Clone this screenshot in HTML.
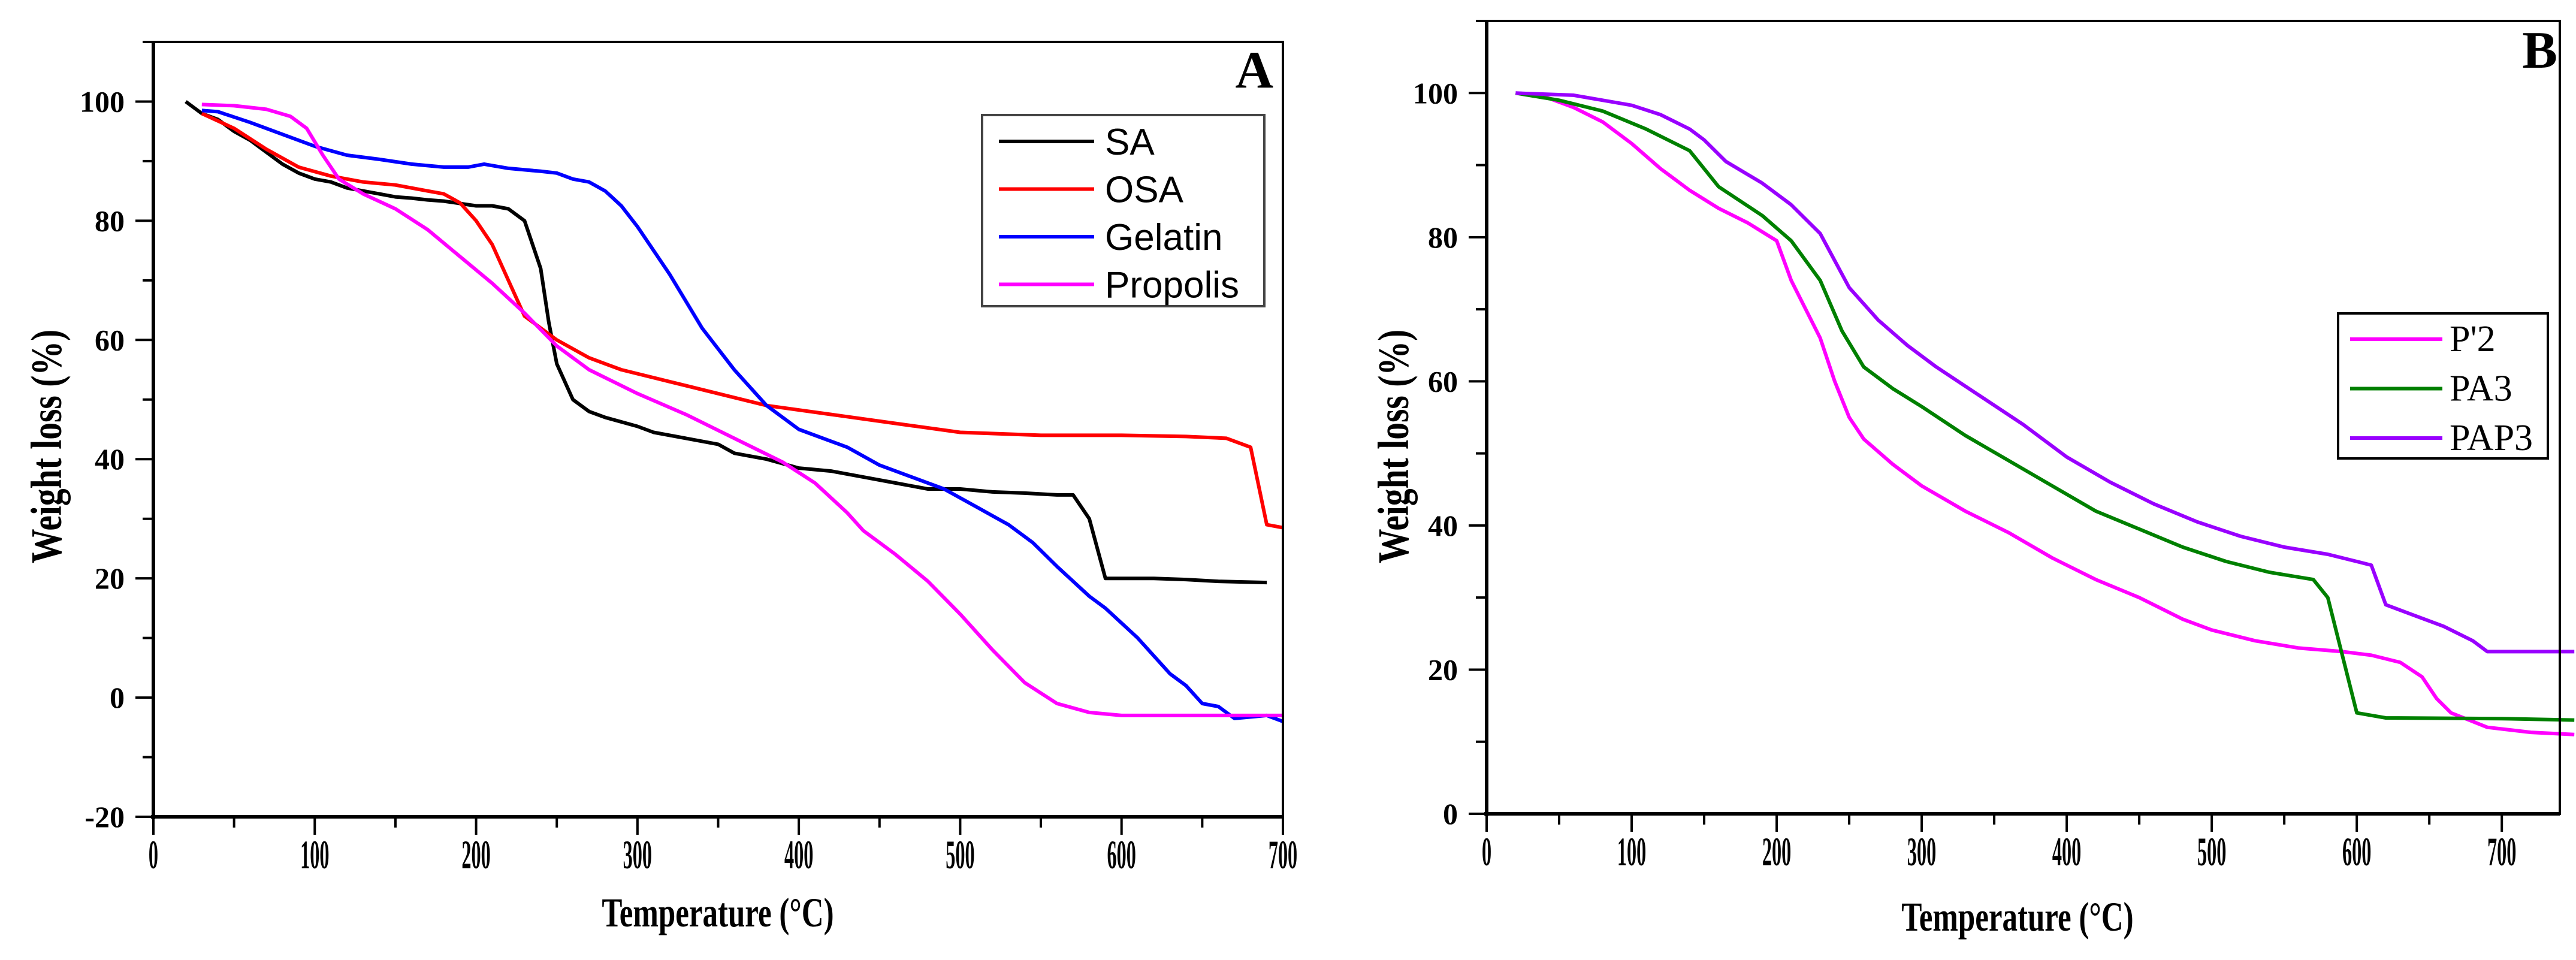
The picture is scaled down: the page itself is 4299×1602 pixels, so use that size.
<!DOCTYPE html>
<html><head><meta charset="utf-8"><style>
html,body{margin:0;padding:0;background:#fff;}
svg{display:block;}
</style></head><body>
<svg id="fig" width="4299" height="1602" viewBox="0 0 4299 1602" xmlns="http://www.w3.org/2000/svg">
<rect width="4299" height="1602" fill="#ffffff"/>
<g id="pa"></g>
<g id="pb"></g>
</svg>
<script>
// ---- Panel A data ----
const saT=[20,30,40,50,60,70,80,90,100,110,120,140,150,160,170,180,200,210,220,230,240,245,250,260,270,280,300,310,330,350,360,380,400,420,440,460,480,500,520,540,560,570,580,590,600,620,640,660,690];
const saW=[100,98,97,95,93.5,91.5,89.5,88,87,86.5,85.5,84.5,84,83.8,83.5,83.3,82.5,82.5,82,80,72,63,56,50,48,47,45.5,44.5,43.5,42.5,41,40,38.5,38,37,36,35,35,34.5,34.3,34,34,30,20,20,20,19.8,19.5,19.3];
const osaT=[30,50,70,90,110,130,150,170,180,190,200,210,220,230,250,270,290,320,350,380,420,460,500,550,600,640,665,680,690,700];
const osaW=[98,95.5,92,89,87.5,86.5,86,85,84.5,83,80,76,70,64,60,57,55,53,51,49,47.5,46,44.5,44,44,43.8,43.5,42,29,28.5];
const gelT=[30,40,60,80,100,120,140,160,180,195,205,220,240,250,260,270,280,290,300,320,340,360,380,400,420,430,450,470,490,510,530,545,560,580,590,610,620,630,640,650,660,670,690,700];
const gelW=[98.5,98.3,96.5,94.5,92.5,91,90.3,89.5,89,89,89.5,88.8,88.3,88,87,86.5,85,82.5,79,71,62,55,49,45,43,42,39,37,35,32,29,26,22,17,15,10,7,4,2,-1,-1.5,-3.5,-3,-4];
const proT=[30,50,70,85,95,105,115,130,150,170,190,210,230,250,270,300,330,360,390,410,430,440,460,480,500,520,540,560,580,600,700];
const proW=[99.5,99.3,98.7,97.5,95.5,91,87,84.5,82,78.5,74,69.5,64.5,59,55,51,47.5,43.5,39.5,36,31,28,24,19.5,14,8,2.5,-1,-2.5,-3,-3];
const aXTicks=[0,100,200,300,400,500,600,700];
const aYTicks=[-20,0,20,40,60,80,100];
// ---- Panel B data ----
const p2T=[20,40,60,80,100,120,140,160,180,200,210,230,240,250,260,280,300,330,360,390,420,450,480,500,530,560,590,610,630,645,655,665,690,720,750];
const p2W=[100,99.5,98,96,93,89.5,86.5,84,82,79.5,74,66,60,55,52,48.5,45.5,42,39,35.5,32.5,30,27,25.5,24,23,22.5,22,21,19,16,14,12,11.3,11];
const pa3T=[20,50,80,110,140,160,190,210,230,245,260,280,300,330,360,390,420,450,480,510,540,570,580,590,600,620,700,750];
const pa3W=[100,99,97.5,95,92,87,83,79.5,74,67,62,59,56.5,52.5,49,45.5,42,39.5,37,35,33.5,32.5,30,22,14,13.3,13.2,13];
const pap3T=[20,60,80,100,120,140,150,165,190,210,230,250,270,290,310,340,370,400,430,460,490,520,550,580,600,610,620,640,660,680,690,750];
const pap3W=[100,99.7,99,98.3,97,95,93.5,90.5,87.5,84.5,80.5,73,68.5,65,62,58,54,49.5,46,43,40.5,38.5,37,36,35,34.5,29,27.5,26,24,22.5,22.5];
const bXTicks=[0,100,200,300,400,500,600,700];
const bYTicks=[0,20,40,60,80,100];

const NS='http://www.w3.org/2000/svg';
function mk(parent,tag,attrs,text){const e=document.createElementNS(NS,tag);for(const k in attrs)e.setAttribute(k,attrs[k]);if(text!==undefined)e.textContent=text;parent.appendChild(e);return e;}

function panel(g,cfg){
  const sx=v=>cfg.x0+(v-cfg.xmin)*(cfg.x1-cfg.x0)/(cfg.xmax-cfg.xmin);
  const sy=v=>cfg.y1-(v-cfg.ymin)*(cfg.y1-cfg.y0)/(cfg.ymax-cfg.ymin);
  const F='"Liberation Serif", serif';
  cfg.series.forEach(s=>{
    const d=s.t.map((t,i)=>(i?'L':'M')+sx(t).toFixed(1)+' '+sy(s.w[i]).toFixed(1)).join(' ');
    const p=mk(g,'path',{d:d,fill:'none',stroke:s.color,'stroke-width':6,'stroke-linejoin':'round'});
    
    
  });
  const fr=mk(g,'rect',{x:cfg.x0,y:cfg.y0,width:cfg.x1-cfg.x0,height:cfg.y1-cfg.y0,fill:'none',stroke:'#000','stroke-width':4});
  
  
  mk(g,'line',{x1:cfg.x0,y1:cfg.y0,x2:cfg.x0,y2:cfg.y1+4,stroke:'#000','stroke-width':6});
  mk(g,'line',{x1:cfg.x0-4,y1:cfg.y1,x2:cfg.x1,y2:cfg.y1,stroke:'#000','stroke-width':6});
  for(let v=cfg.xmin;v<=cfg.xmax+0.01;v+=50){
    const major=(v%100===0);
    mk(g,'line',{x1:sx(v),y1:cfg.y1,x2:sx(v),y2:cfg.y1+(major?30:18),stroke:'#000','stroke-width':4});
  }
  cfg.xt.forEach(v=>{
    const t=mk(g,'text',{x:sx(v),y:cfg.y1+86,'text-anchor':'middle','font-family':F,'font-weight':'bold','font-size':52},String(v));
    t.setAttribute('transform',`translate(${sx(v)},${cfg.y1+86}) scale(0.62,1.3) translate(${-sx(v)},${-(cfg.y1+86)})`);
    
    
  });
  for(let v=cfg.ymin;v<=cfg.ymax;v+=10){
    const major=(v%20===0);
    mk(g,'line',{x1:cfg.x0,y1:sy(v),x2:cfg.x0-(major?30:18),y2:sy(v),stroke:'#000','stroke-width':4});
  }
  cfg.yt.forEach(v=>{
    const t=mk(g,'text',{x:cfg.x0-48,y:sy(v)+17,'text-anchor':'end','font-family':F,'font-weight':'bold','font-size':50},String(v));
    
    
  });
  const xt=mk(g,'text',{x:cfg.xtx,y:cfg.xty,'text-anchor':'middle','font-family':F,'font-weight':'bold','font-size':60,transform:`translate(${cfg.xtx},${cfg.xty}) scale(0.85,1.15) translate(${-cfg.xtx},${-cfg.xty})`},'Temperature (°C)');
  
  
  const yt=mk(g,'text',{x:0,y:0,'text-anchor':'middle','font-family':F,'font-weight':'bold','font-size':64,transform:`translate(${cfg.ytx},${cfg.yty}) rotate(-90) scale(0.9,1.15)`},'Weight loss (%)');
  
  
  const pl=mk(g,'text',{x:cfg.lx,y:cfg.ly,'text-anchor':'end','font-family':F,'font-weight':'bold','font-size':88},cfg.letter);
  
  
  const L=cfg.leg;
  const lb=mk(g,'rect',{x:L.x,y:L.y,width:L.w,height:L.h,fill:'#fff',stroke:L.bc,'stroke-width':4});
  
  
  cfg.series.forEach((s,i)=>{
    const yy=L.y+L.first+i*L.step;
    const ln=mk(g,'line',{x1:L.lx0,y1:yy,x2:L.lx1,y2:yy,stroke:s.color,'stroke-width':6});
    
    
    const tx=mk(g,'text',{x:L.tx,y:yy+L.dy,'font-family':L.font,'font-size':L.fs},s.label);
    
    
  });
}

panel(document.getElementById('pa'),{
  x0:256,x1:2141,y0:70,y1:1363,xmin:0,xmax:700,ymin:-20,ymax:110,xt:aXTicks,yt:aYTicks,
  xtx:1198,xty:1546,ytx:102,yty:745,lx:2125,ly:146,letter:'A',
  series:[
    {key:'sa',label:'SA',color:'#000000',t:saT,w:saW},
    {key:'osa',label:'OSA',color:'#ff0000',t:osaT,w:osaW},
    {key:'gelatin',label:'Gelatin',color:'#0000ff',t:gelT,w:gelW},
    {key:'propolis',label:'Propolis',color:'#ff00ff',t:proT,w:proW}],
  leg:{x:1639,y:192,w:471,h:319,bc:'#444',first:44,step:79.5,lx0:1667,lx1:1826,tx:1844,dy:22,fs:62,font:'"Liberation Sans", sans-serif'}
});
panel(document.getElementById('pb'),{
  x0:2481,x1:4272,y0:35,y1:1358,xmin:0,xmax:740,ymin:0,ymax:110,xt:bXTicks,yt:bYTicks,
  xtx:3367,xty:1553,ytx:2350,yty:745,lx:4268,ly:113,letter:'B',
  series:[
    {key:'p2',label:"P'2",color:'#ff00ff',t:p2T,w:p2W},
    {key:'pa3',label:'PA3',color:'#008000',t:pa3T,w:pa3W},
    {key:'pap3',label:'PAP3',color:'#9900ff',t:pap3T,w:pap3W}],
  leg:{x:3902,y:523,w:350,h:242,bc:'#000',first:43,step:82.5,lx0:3922,lx1:4076,tx:4088,dy:20,fs:62,font:'"Liberation Serif", serif'}
});
</script>
</body></html>
